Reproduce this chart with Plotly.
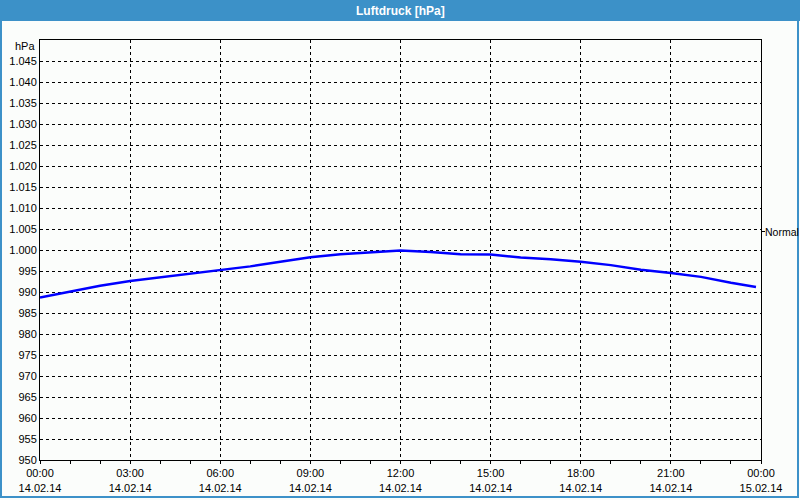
import plotly.graph_objects as go

# Luftdruck over one day, roughly hourly readings
times = [
    "2014-02-14 00:00", "2014-02-14 01:00", "2014-02-14 02:00", "2014-02-14 03:00",
    "2014-02-14 04:00", "2014-02-14 05:00", "2014-02-14 06:00", "2014-02-14 07:00",
    "2014-02-14 08:00", "2014-02-14 09:00", "2014-02-14 10:00", "2014-02-14 11:00",
    "2014-02-14 12:00", "2014-02-14 13:00", "2014-02-14 14:00", "2014-02-14 15:00",
    "2014-02-14 16:00", "2014-02-14 17:00", "2014-02-14 18:00", "2014-02-14 19:00",
    "2014-02-14 20:00", "2014-02-14 21:00", "2014-02-14 22:00", "2014-02-14 23:00",
    "2014-02-14 23:50",
]
pressure = [
    988.7, 990.1, 991.5, 992.6, 993.5, 994.4, 995.2, 996.1,
    997.2, 998.3, 999.0, 999.4, 999.9, 999.5, 999.0, 998.9,
    998.2, 997.8, 997.2, 996.4, 995.3, 994.5, 993.6, 992.2,
    991.2,
]

y_ticks = list(range(950, 1050, 5))
y_labels = [f"{v:,}".replace(",", ".") if v >= 1000 else str(v) for v in y_ticks]
normal_level = 1004.3

W, H = 800, 500
L, R, T, B = 40, 39, 40, 40
pw, ph = W - L - R, H - T - B


def px_x(x):
    return (x - L) / pw


def px_y(y):
    return (H - B - y) / ph


font = "Liberation Sans, Arial, sans-serif"
bar_blue = "#3C91C8"

fig = go.Figure()
fig.add_trace(go.Scatter(
    x=times, y=pressure, mode="lines",
    line=dict(color="#0000FF", width=2.5),
    hoverinfo="skip", showlegend=False,
))
# invisible trace to make the right axis exist
fig.add_trace(go.Scatter(
    x=[times[0]], y=[normal_level], yaxis="y2", mode="markers",
    marker=dict(opacity=0), showlegend=False, hoverinfo="skip",
))

grid = dict(showgrid=True, gridcolor="black", gridwidth=1, griddash="3px,3px")

fig.update_layout(
    width=W, height=H,
    margin=dict(l=L, r=R, t=T, b=B, autoexpand=False),
    paper_bgcolor="#FBFDFB", plot_bgcolor="#FBFDFB",
    font=dict(family=font, size=11, color="black"),
    xaxis=dict(
        type="date", automargin=False,
        range=["2014-02-14 00:00", "2014-02-15 00:00"],
        dtick=3 * 3600 * 1000,
        tick0="2014-02-14 00:00",
        tickformat="%H:%M<br>%d.%m.%y",
        ticks="outside", ticklen=3, tickcolor="black",
        minor=dict(dtick=3600 * 1000, ticks="outside", ticklen=3, tickcolor="black", showgrid=False),
        showline=True, linecolor="black", linewidth=1, mirror=True,
        zeroline=False, **grid,
    ),
    yaxis=dict(
        range=[950, 1050], automargin=False,
        tickvals=y_ticks, ticktext=y_labels,
        ticks="", showline=True, linecolor="black", linewidth=1, mirror=True,
        zeroline=False, **grid,
    ),
    yaxis2=dict(
        range=[950, 1050], overlaying="y", side="right", automargin=False,
        tickvals=[normal_level], showticklabels=False,
        ticks="outside", ticklen=3, tickcolor="black",
        showgrid=False, zeroline=False, showline=False,
    ),
    shapes=[
        dict(type="rect", xref="paper", yref="paper",
             x0=px_x(0), x1=px_x(W), y0=px_y(21), y1=px_y(0),
             fillcolor=bar_blue, line=dict(width=0), layer="below"),
        dict(type="rect", xref="paper", yref="paper",
             x0=px_x(1), x1=px_x(798), y0=px_y(497), y1=px_y(1),
             line=dict(color=bar_blue, width=2)),
    ],
    annotations=[
        dict(text="<b>Luftdruck [hPa]</b>", xref="paper", yref="paper",
             x=px_x(400), y=px_y(10.5), xanchor="center", yanchor="middle",
             showarrow=False, font=dict(family=font, size=12, color="white")),
        dict(text="hPa", xref="paper", yref="paper",
             x=0, y=px_y(46), xanchor="right", yanchor="middle",
             xshift=-3, showarrow=False),
        dict(text="Normal", xref="paper", yref="y2",
             x=1, y=normal_level, xanchor="left", yanchor="middle",
             xshift=3, showarrow=False, borderpad=0, font=dict(size=10.5)),
    ],
)

fig.write_html("out.html", config={"displayModeBar": False},
               post_script="document.body.style.margin='0';")
